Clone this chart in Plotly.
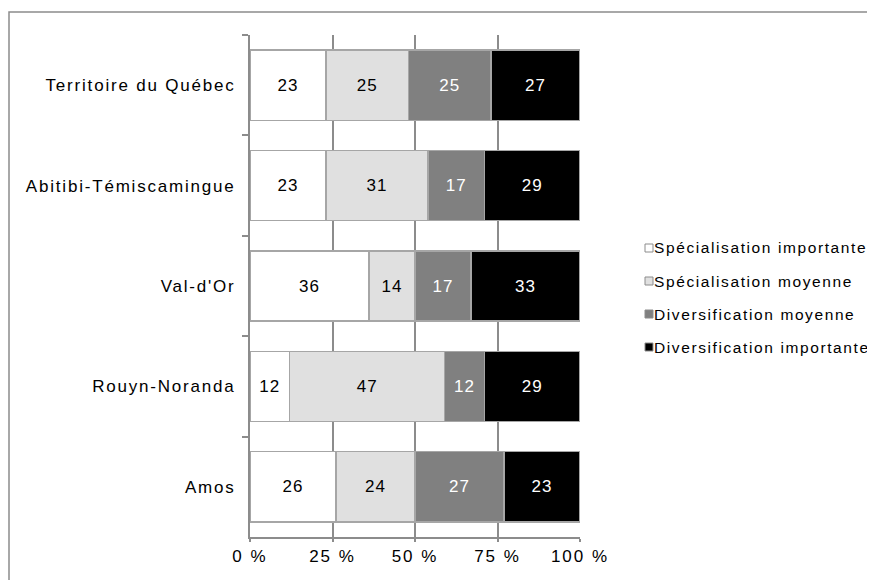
import plotly.graph_objects as go

categories = ["Territoire du Québec", "Abitibi-Témiscamingue", "Val-d'Or", "Rouyn-Noranda", "Amos"]
series_names = ["Spécialisation importante", "Spécialisation moyenne",
                "Diversification moyenne", "Diversification importante"]
spec_importante = [23, 23, 36, 12, 26]
spec_moyenne = [25, 31, 14, 47, 24]
div_moyenne = [25, 17, 17, 12, 27]
div_importante = [27, 29, 33, 29, 23]
tick_vals = [0, 25, 50, 75, 100]
tick_labels = ["0 %", "25 %", "50 %", "75 %", "100 %"]

series_values = [spec_importante, spec_moyenne, div_moyenne, div_importante]
fills = ["#ffffff", "#e0e0e0", "#808080", "#000000"]
text_colors = ["#000000", "#000000", "#ffffff", "#ffffff"]
FONT = "Liberation Sans, Arial, sans-serif"

W, H = 875, 580
OFF = 8  # page body margin
L, R, T, B = 250 - OFF, 580 - OFF, 35 - OFF, 537 - OFF  # plot area in figure px

fig = go.Figure()
for name, vals, fc, tc in zip(series_names, series_values, fills, text_colors):
    fig.add_trace(go.Bar(
        y=categories, x=vals, name=name, orientation="h",
        marker=dict(color=fc, line=dict(color="#a6a6a6", width=1.5)),
        text=[str(v) for v in vals], textposition="inside", insidetextanchor="middle",
        textfont=dict(family=FONT, size=17, color=tc),
        showlegend=False, hoverinfo="skip",
    ))

def px2x(px):
    return (px - OFF - L) / (R - L)

def px2y(py):
    return (B - (py - OFF)) / (B - T)

shapes = []
annotations = []
# outer border
shapes.append(dict(type="rect", xref="paper", yref="paper",
                   x0=px2x(9), x1=px2x(900), y0=px2y(600), y1=px2y(12),
                   line=dict(color="#8c8c8c", width=1.5), layer="below"))
# custom legend
for i, (name, fc) in enumerate(zip(series_names, fills)):
    yc = 248 + 33 * i
    shapes.append(dict(type="rect", xref="paper", yref="paper",
                       x0=px2x(645), x1=px2x(653), y0=px2y(yc + 4), y1=px2y(yc - 4),
                       fillcolor=fc, line=dict(color="#8c8c8c", width=1)))
    annotations.append(dict(xref="paper", yref="paper", x=px2x(652), y=px2y(yc),
                            xanchor="left", yanchor="middle", align="left",
                            text='<span style="letter-spacing:1.6px">' + name + '</span>',
                            showarrow=False,
                            font=dict(family=FONT, size=15.5, color="#000000")))

fig.update_layout(
    width=W, height=H, barmode="stack", bargap=0.3,
    margin=dict(l=L, r=W - R, t=T, b=H - B, pad=0),
    paper_bgcolor="white", plot_bgcolor="white",
    font=dict(family=FONT, color="#000000"),
    shapes=shapes, annotations=annotations,
    xaxis=dict(range=[0, 100], tickvals=tick_vals, ticktext=tick_labels,
               showgrid=True, gridcolor="#8c8c8c", gridwidth=1.5, zeroline=False,
               showline=True, linecolor="#8c8c8c", linewidth=1.5,
               ticks="outside", ticklen=3, tickcolor="#8c8c8c", tickwidth=1.5,
               tickfont=dict(family=FONT, size=17), fixedrange=True),
    yaxis=dict(autorange="reversed", showgrid=False, zeroline=False,
               showline=True, linecolor="#8c8c8c", linewidth=2,
               ticks="outside", tickson="boundaries", ticklen=6, tickcolor="#8c8c8c", tickwidth=2,
               ticklabelstandoff=9, tickfont=dict(family=FONT, size=17), fixedrange=True),
)

post = """
var st = document.createElement('style');
st.textContent = '.ytick text {letter-spacing: 1.8px;} .xtick text {letter-spacing: 2px;} text.bartext {letter-spacing: 1px;}';
document.head.appendChild(st);
"""

fig.write_html("out.html", post_script=post)
